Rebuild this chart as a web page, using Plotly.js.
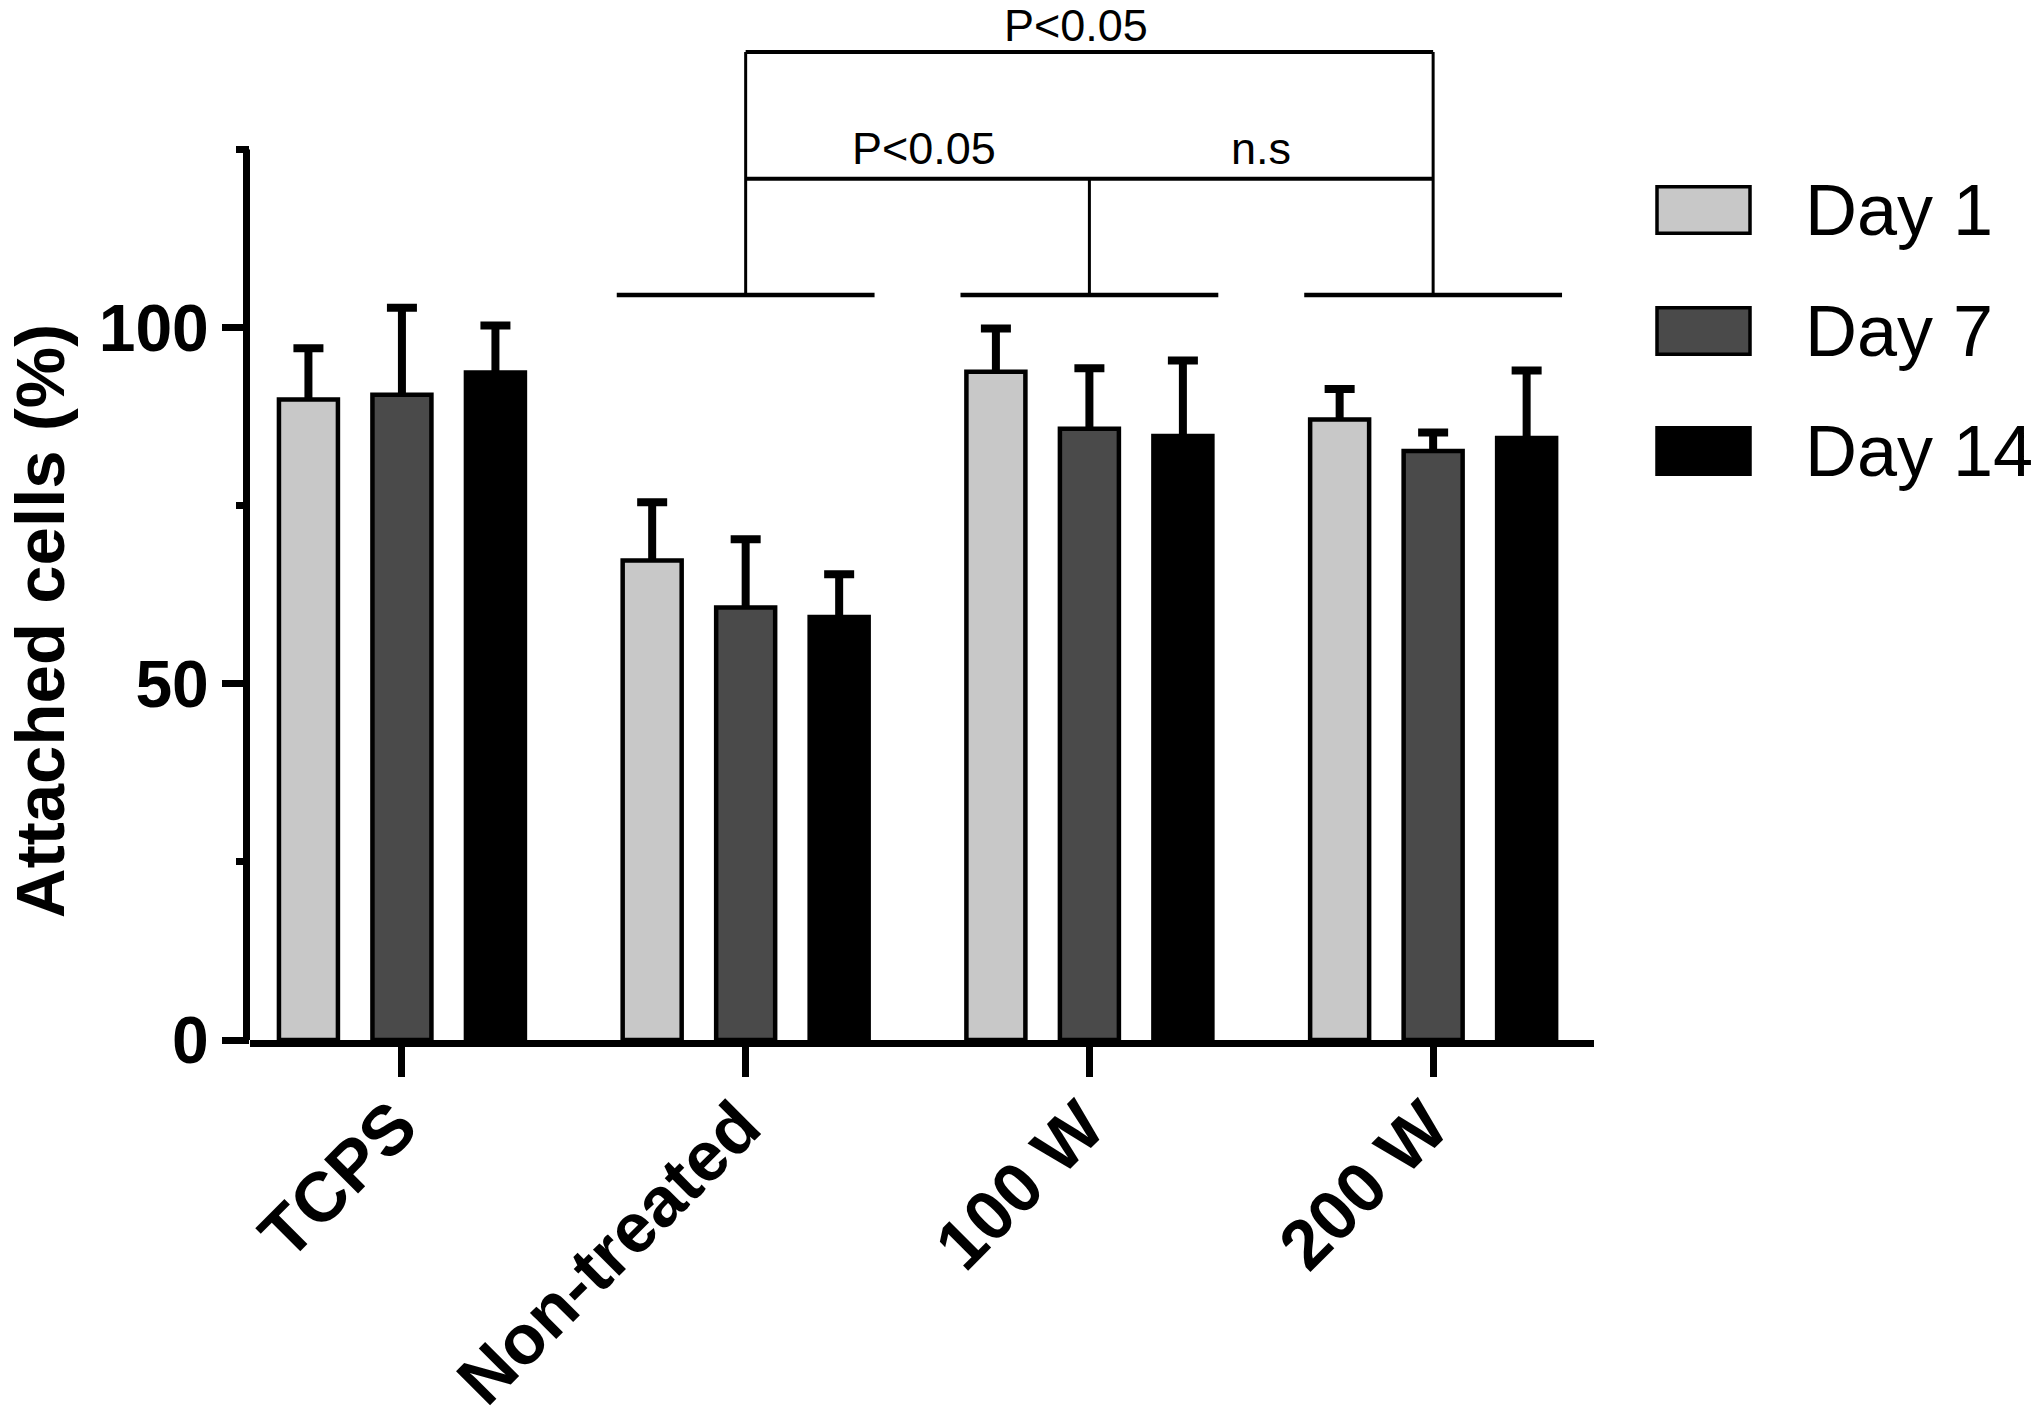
<!DOCTYPE html>
<html>
<head>
<meta charset="utf-8">
<script src="https://cdn.plot.ly/plotly-3.0.1.min.js"></script>
<style>
  html, body { margin: 0; padding: 0; background: #ffffff; }
  #chart { width: 2040px; height: 1418px; }
</style>
</head>
<body>
<div id="chart"></div>
<script>
// ---- data ----
const categories = ['TCPS', 'Non-treated', '100 W', '200 W'];
const seriesNames = ['Day 1', 'Day 7', 'Day 14'];
const day1 = [89.9, 67.3, 93.8, 87.1];
const day1Err = [7.2, 8.2, 6.1, 4.3];
const day7 = [90.6, 60.7, 85.8, 82.7];
const day7Err = [12.2, 9.6, 8.5, 2.6];
const day14 = [93.7, 59.4, 84.8, 84.5];
const day14Err = [6.6, 6.0, 10.6, 9.5];
const yTickVals = [0, 50, 100];
const yMinorTickVals = [25, 75, 125];
const yAxisTop = 125;

// significance brackets (category index positions, y values in %)
const groupMarks = [1, 2, 3];
const groupLineY = 104.6;
const innerBracketY = 120.9;
const outerBracketY = 138.7;
const sigLabels = [
  { text: 'P<0.05', x: 1.52, y: 125.1 },
  { text: 'n.s', x: 2.50, y: 125.1 },
  { text: 'P<0.05', x: 1.96, y: 142.4 }
];

// ---- styling ----
const FONT = 'Liberation Sans, Arial, Helvetica, sans-serif';
const fills = ['#c8c8c8', '#4a4a4a', '#000000'];
const values = [day1, day7, day14];
const errs = [day1Err, day7Err, day14Err];

const traces = [];
// bars with the upper error stems
values.forEach((v, i) => {
  traces.push({
    type: 'bar',
    x: categories,
    y: v,
    name: seriesNames[i],
    offsetgroup: 'g' + i,
    showlegend: false,
    marker: { color: fills[i], line: { color: '#000000', width: 4.5 } },
    error_y: {
      type: 'data', symmetric: false,
      array: errs[i], arrayminus: errs[i].map(() => 0),
      color: '#000000', thickness: 8, width: 0
    }
  });
});
// cross-bars at the top of each error bar (same slot as the bars)
values.forEach((v, i) => {
  traces.push({
    type: 'bar',
    x: categories,
    y: v.map((val, k) => val + errs[i][k]),
    name: seriesNames[i] + ' cap',
    offsetgroup: 'g' + i,
    showlegend: false,
    marker: { color: 'rgba(0,0,0,0)', line: { width: 0 } },
    error_y: {
      type: 'data', symmetric: true,
      array: errs[i].map(() => 0),
      color: '#000000', thickness: 8, width: 15
    }
  });
});

const L = 250, R = 446;
const plotW = 2040 - L - R;
const plotH = 1040;

const shapes = [];
// y axis line (stops at 125)
shapes.push({ type: 'line', xref: 'paper', yref: 'y', x0: -3.5 / plotW, x1: -3.5 / plotW, y0: 0, y1: yAxisTop,
  line: { color: '#000000', width: 7 } });
// group lines
groupMarks.forEach(c => {
  shapes.push({ type: 'line', xref: 'x', yref: 'y', x0: c - 0.375, x1: c + 0.375, y0: groupLineY, y1: groupLineY,
    line: { color: '#000000', width: 4.5 } });
});
// verticals
shapes.push({ type: 'line', xref: 'x', yref: 'y', x0: groupMarks[0], x1: groupMarks[0], y0: groupLineY, y1: outerBracketY, line: { color: '#000000', width: 3 } });
shapes.push({ type: 'line', xref: 'x', yref: 'y', x0: groupMarks[1], x1: groupMarks[1], y0: groupLineY, y1: innerBracketY, line: { color: '#000000', width: 3 } });
shapes.push({ type: 'line', xref: 'x', yref: 'y', x0: groupMarks[2], x1: groupMarks[2], y0: groupLineY, y1: outerBracketY, line: { color: '#000000', width: 3 } });
// horizontals
shapes.push({ type: 'line', xref: 'x', yref: 'y', x0: groupMarks[0], x1: groupMarks[2], y0: innerBracketY, y1: innerBracketY, line: { color: '#000000', width: 4 } });
shapes.push({ type: 'line', xref: 'x', yref: 'y', x0: groupMarks[0], x1: groupMarks[2], y0: outerBracketY, y1: outerBracketY, line: { color: '#000000', width: 4 } });

const annotations = sigLabels.map(s => ({
  xref: 'x', yref: 'y', x: s.x, y: s.y, text: s.text, showarrow: false,
  xanchor: 'center', yanchor: 'middle',
  font: { family: FONT, size: 45, color: '#000000' }
}));

// y axis title
annotations.push({
  xref: 'paper', yref: 'y', x: (40 - L) / plotW, y: 58.8, text: 'Attached cells (%)',
  textangle: -90, showarrow: false, xanchor: 'center', yanchor: 'middle',
  font: { family: FONT, size: 69, color: '#000000', weight: 'bold' }
});

// legend (drawn manually for the large swatches)
const legRowsPx = [210, 331, 451];
legRowsPx.forEach((py, i) => {
  const yc = (plotH - py) / plotH;
  const hh = 23.3 / plotH;
  shapes.push({ type: 'rect', xref: 'paper', yref: 'paper',
    x0: (1657 - L) / plotW, x1: (1750 - L) / plotW, y0: yc - hh, y1: yc + hh,
    fillcolor: fills[i], line: { color: '#000000', width: 3.5 } });
  annotations.push({ xref: 'paper', yref: 'paper', x: (1803 - L) / plotW, y: yc,
    text: seriesNames[i], showarrow: false, xanchor: 'left', yanchor: 'middle',
    font: { family: FONT, size: 72, color: '#000000' } });
});

const layout = {
  width: 2040, height: 1418,
  margin: { l: L, r: R, t: 0, b: 1418 - plotH, pad: 0 },
  paper_bgcolor: '#ffffff', plot_bgcolor: '#ffffff',
  barmode: 'group', bargap: 0.184, bargroupgap: 0.369,
  showlegend: false,
  font: { family: FONT, color: '#000000' },
  xaxis: {
    type: 'category', range: [-0.442, 3.468],
    showline: true, linecolor: '#000000', linewidth: 7,
    ticks: 'outside', ticklen: 30, tickwidth: 7, tickcolor: '#000000',
    tickangle: -45,
    ticklabelstandoff: -20, ticklabelshift: -6,
    tickfont: { family: FONT, size: 70, color: '#000000', weight: 'bold' },
    showgrid: false, zeroline: false, fixedrange: true
  },
  yaxis: {
    range: [0, 146],
    showline: false,
    tickmode: 'array', tickvals: yTickVals,
    ticks: 'outside', ticklen: 27, tickwidth: 7, tickcolor: '#000000',
    tickfont: { family: FONT, size: 66, color: '#000000', weight: 'bold' },
    minor: { tickmode: 'array', tickvals: yMinorTickVals, ticks: 'outside', ticklen: 13, tickwidth: 7, tickcolor: '#000000', showgrid: false },
    showgrid: false, zeroline: false, fixedrange: true
  },
  shapes: shapes,
  annotations: annotations
};

Plotly.newPlot('chart', traces, layout, { displayModeBar: false, staticPlot: true });
</script>
</body>
</html>
